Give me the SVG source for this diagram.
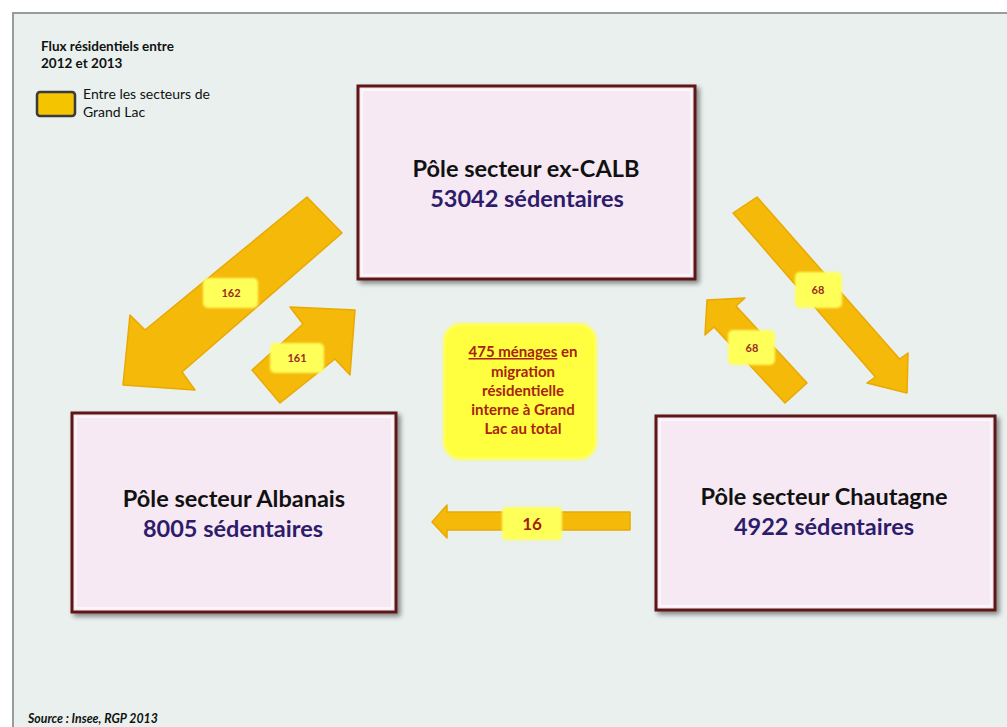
<svg xmlns="http://www.w3.org/2000/svg" width="1007" height="727" viewBox="0 0 1007 727">
<defs>
<filter id="sh" x="-10%" y="-10%" width="130%" height="130%">
<feGaussianBlur in="SourceAlpha" stdDeviation="2.5"/>
<feOffset dx="3" dy="3" result="b"/>
<feComponentTransfer><feFuncA type="linear" slope="0.45"/></feComponentTransfer>
<feMerge><feMergeNode/><feMergeNode in="SourceGraphic"/></feMerge>
</filter>
<filter id="soft" x="-20%" y="-20%" width="140%" height="140%">
<feGaussianBlur stdDeviation="1.2"/>
</filter>
</defs>
<style>
.box{fill:#f6e9f3;stroke:#5e1818;stroke-width:3}
.inner{fill:none;stroke:#ffffff;stroke-width:1.5;opacity:0.8}
.title{font-family:Lato,"Open Sans",sans-serif;font-weight:bold;font-size:23.5px;fill:#111111;text-anchor:middle}
.count{font-family:Lato,"Open Sans",sans-serif;font-weight:bold;font-size:23.5px;fill:#2d1b6b;text-anchor:middle}
.arrow{fill:#f5b90a;stroke:#e9a900;stroke-width:1.5;stroke-linejoin:round}
.lbl{fill:#ffff5a}
.lbltxt{font-family:Lato,"Open Sans",sans-serif;font-weight:bold;font-size:11px;fill:#9e2b22;text-anchor:middle}
.big{font-size:17px;fill:#a3200f}
.center{font-family:Lato,"Open Sans",sans-serif;font-weight:bold;font-size:15px;fill:#a8220f;text-anchor:middle}
.leg{font-family:Lato,"Open Sans",sans-serif;fill:#111111}
</style>
<rect x="0" y="0" width="1007" height="727" fill="#ffffff"/>
<rect x="13" y="13" width="1010" height="730" fill="#e9f0ee" stroke="#9a9c9b" stroke-width="2"/>

<g id="legend">
<text class="leg" x="41" y="51" font-size="13.5" font-weight="bold">Flux résidentiels entre</text>
<text class="leg" x="41" y="68" font-size="13.5" font-weight="bold">2012 et 2013</text>
<rect x="37" y="92" width="38" height="24" rx="3" fill="#f5c400" stroke="#3a3a3a" stroke-width="2.5"/>
<text class="leg" x="83" y="99" font-size="14">Entre les secteurs de</text>
<text class="leg" x="83" y="117" font-size="14">Grand Lac</text>
</g>

<g id="connectors">
<g id="arrow-162">
<polygon class="arrow" points="307,197 145,330 130,315 123,385 195,390 182,372 342,233"/>
<rect class="lbl" x="203" y="278" width="55" height="30" rx="5" filter="url(#soft)"/>
<rect class="lbl" x="205" y="280" width="51" height="26" rx="4"/>
<text class="lbltxt" x="231" y="297">162</text>
</g>
<g id="arrow-161">
<polygon class="arrow" points="252,370 303,324 290,307 355,310 350,375 335,359 280,403"/>
<rect class="lbl" x="270" y="343" width="54" height="30" rx="5" filter="url(#soft)"/>
<rect class="lbl" x="272" y="345" width="50" height="26" rx="4"/>
<text class="lbltxt" x="297" y="362">161</text>
</g>
<g id="arrow-68-right">
<polygon class="arrow" points="757,197 899.6,359 908,353 907,393 867,383 875.4,377 733,213"/>
<rect class="lbl" x="795" y="272" width="47" height="36" rx="5" filter="url(#soft)"/>
<rect class="lbl" x="797" y="274" width="43" height="32" rx="4"/>
<text class="lbltxt" x="818" y="294">68</text>
</g>
<g id="arrow-68-left">
<polygon class="arrow" points="707,300 745,298 736,306 807,383 785,403 714,327 705,335"/>
<rect class="lbl" x="728" y="330" width="47" height="35" rx="5" filter="url(#soft)"/>
<rect class="lbl" x="730" y="332" width="43" height="31" rx="4"/>
<text class="lbltxt" x="752" y="352">68</text>
</g>
<g id="arrow-16">
<polygon class="arrow" points="630,512 447,512 447,505 432,522 447,538 447,530 630,530"/>
<rect class="lbl" x="502" y="507" width="60" height="33" rx="4" filter="url(#soft)"/>
<rect class="lbl" x="504" y="509" width="56" height="29" rx="3"/>
<text class="lbltxt big" x="532" y="530">16</text>
</g>
</g>

<g id="node-calb">
<rect class="box" x="358" y="86" width="337" height="193" filter="url(#sh)"/>
<rect class="inner" x="362" y="90" width="329" height="185"/>
<text class="title" x="526" y="177">Pôle secteur ex-CALB</text>
<text class="count" x="527" y="207">53042 sédentaires</text>
</g>

<g id="node-albanais">
<rect class="box" x="72" y="413" width="324" height="199" filter="url(#sh)"/>
<rect class="inner" x="76" y="417" width="316" height="191"/>
<text class="title" x="234" y="507">Pôle secteur Albanais</text>
<text class="count" x="233" y="537">8005 sédentaires</text>
</g>

<g id="node-chautagne">
<rect class="box" x="656" y="416" width="339" height="194" filter="url(#sh)"/>
<rect class="inner" x="660" y="420" width="331" height="186"/>
<text class="title" x="824" y="505">Pôle secteur Chautagne</text>
<text class="count" x="824" y="535">4922 sédentaires</text>
</g>

<g id="node-total">
<rect x="443" y="323" width="154" height="137" rx="18" fill="#ffff55" filter="url(#soft)"/>
<rect x="446" y="326" width="148" height="131" rx="16" fill="#ffff40"/>
<text class="center" x="523" y="357"><tspan text-decoration="underline">475 ménages</tspan> en</text>
<text class="center" x="523" y="377">migration</text>
<text class="center" x="523" y="396">résidentielle</text>
<text class="center" x="523" y="415">interne à Grand</text>
<text class="center" x="523" y="434">Lac au total</text>
</g>

<text x="28" y="723" font-family="Lato,'Open Sans',sans-serif" font-size="12.3" font-weight="bold" font-style="italic" fill="#111111">Source : Insee, RGP 2013</text>
</svg>
